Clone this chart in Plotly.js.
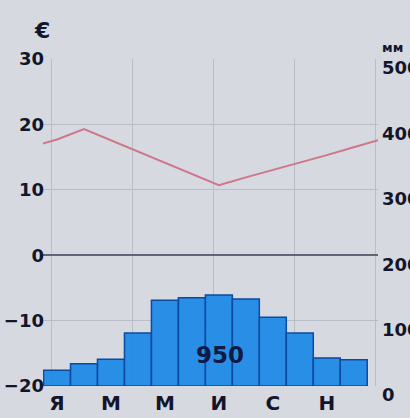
<!DOCTYPE html>
<html>
<head>
<meta charset="utf-8">
<script src="https://cdn.plot.ly/plotly-3.0.1.min.js"></script>
<style>html,body{margin:0;padding:0;background:#d6d9e0;}#chart{width:410px;height:418px;}</style>
</head>
<body>
<div id="chart"></div>
<script>
// Months (1..12) and labels
const months = [1,2,3,4,5,6,7,8,9,10,11,12];
const monthTickVals = [1,3,5,7,9,11];
const monthTickText = ["Я","М","М","И","С","Н"];
// Mean monthly temperature, °C
const temperature = [17.7,19.3,17.6,15.9,14.1,12.4,10.7,11.9,13.0,14.2,15.3,16.5];
// Monthly precipitation, mm
const precipitation = [24,34,41,81,131,135,139,133,105,81,43,40];
const annualTotal = "950";
const tempLabel = "€";
const precipLabel = "мм";

// periodic wrap so the line continues to the frame edges (Dec before Jan, Jan after Dec)
const lineX = [0].concat(months, [13]);
const lineY = [temperature[11]].concat(temperature, [temperature[0]]);

const fontB = "DejaVu Sans, Arial, sans-serif";
const ink = "#13162a";

const traces = [
  {
    type: "bar", x: months, y: precipitation, yaxis: "y2", width: 1,
    marker: {color: "rgba(28,136,230,0.93)", line: {color: "#0c4aa2", width: 1.5}},
    hoverinfo: "skip"
  },
  {
    type: "scatter", mode: "lines", x: lineX, y: lineY,
    line: {color: "#cf7688", width: 2},
    hoverinfo: "skip"
  }
];

const layout = {
  width: 410, height: 418,
  margin: {l: 43, r: 32, t: 59, b: 32, pad: 0},
  paper_bgcolor: "#d6d9e0", plot_bgcolor: "#d6d9e0",
  showlegend: false, bargap: 0,
  font: {family: fontB, color: ink},
  xaxis: {
    range: [0.48, 12.9], tickvals: monthTickVals, ticktext: monthTickText,
    showgrid: false, zeroline: false, ticks: "", ticklabelstandoff: 3,
    tickfont: {family: fontB, size: 20, color: ink, weight: "bold"},
    showline: false, fixedrange: true,
    minor: {tick0: 3.8, dtick: 3, showgrid: true, gridcolor: "#b9bdc8", gridwidth: 1, ticks: ""}
  },
  yaxis: {
    range: [-20, 30], dtick: 10, tick0: 0, showgrid: true, gridcolor: "#b9bdc8", gridwidth: 1,
    zeroline: true, zerolinecolor: "#5f6676", zerolinewidth: 1.5,
    ticks: "", ticklabelstandoff: -2,
    tickfont: {family: fontB, size: 18, color: ink, weight: "bold"},
    showline: false
  },
  yaxis2: {
    overlaying: "y", side: "right", range: [0, 500], dtick: 100,
    showgrid: false, zeroline: false, ticks: "", ticklabelstandoff: 3, ticklabelshift: 9,
    tickfont: {family: fontB, size: 18, color: ink, weight: "bold"},
    showline: false
  },
  annotations: [
    {text: annualTotal, x: 7.05, y: 47, xref: "x", yref: "y2", showarrow: false,
     font: {family: fontB, size: 23, color: "#111a44", weight: "bold"}},
    {text: tempLabel, x: 42, y: 30, xref: "paper", yref: "paper", showarrow: false,
     xanchor: "center", yanchor: "middle",
     font: {family: fontB, size: 22, color: ink, weight: "bold"}},
    {text: precipLabel, x: 393, y: 48, xref: "paper", yref: "paper", showarrow: false,
     xanchor: "center", yanchor: "middle",
     font: {family: fontB, size: 13, color: ink, weight: "bold"}}
  ]
};
// convert pixel-positioned labels into paper fractions
(function(){
  const pw = 410 - layout.margin.l - layout.margin.r;
  const ph = 418 - layout.margin.t - layout.margin.b;
  [1,2].forEach(i => {
    const a = layout.annotations[i];
    a.x = (a.x - layout.margin.l) / pw;
    a.y = (418 - layout.margin.b - a.y) / ph;
  });
})();

Plotly.newPlot("chart", traces, layout, {staticPlot: true, displayModeBar: false});
</script>
</body>
</html>
